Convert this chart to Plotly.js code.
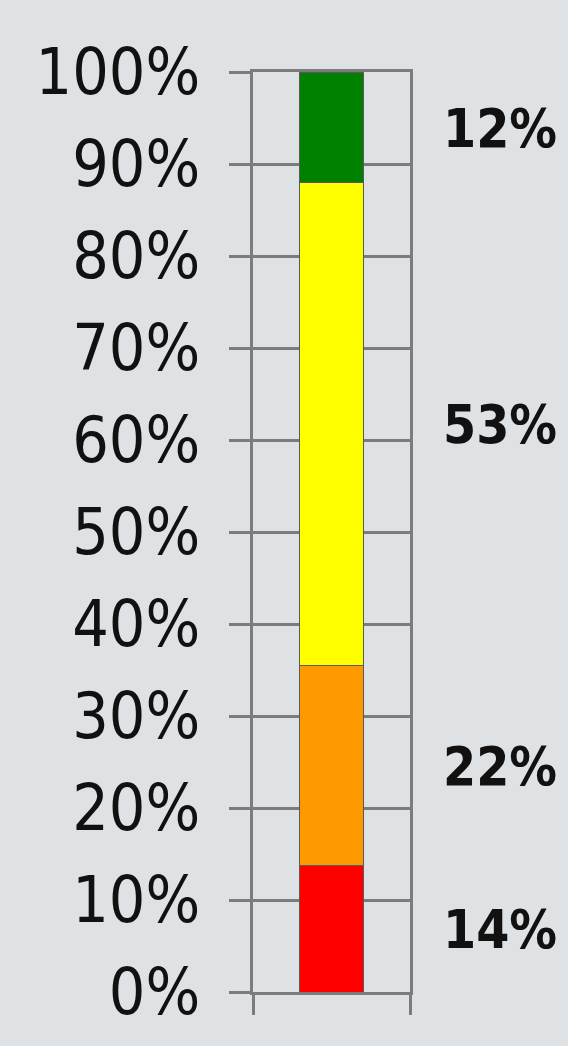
<!DOCTYPE html>
<html>
<head>
<meta charset="utf-8">
<script src="https://cdn.plot.ly/plotly-3.0.1.min.js"></script>
<style>html,body{margin:0;padding:0;background:#dfe2e4;}#chart{width:568px;height:1046px;}</style>
</head>
<body>
<div id="chart"></div>
<script>
// Data (bar segment sizes, in percent) and their printed labels
var categories = ["Total"];
var segmentNames = ["Red", "Orange", "Yellow", "Green"];
var segmentValues = [13.8, 21.7, 52.5, 12.0];
var segmentLabels = ["14%", "22%", "53%", "12%"];
var segmentColors = ["#ff0000", "#ff9900", "#ffff00", "#008000"];
var yTickVals = [0, 10, 20, 30, 40, 50, 60, 70, 80, 90, 100];
var yTickText = ["0%", "10%", "20%", "30%", "40%", "50%", "60%", "70%", "80%", "90%", "100%"];

var traces = [];
var annotations = [];
var base = 0;
for (var i = 0; i < segmentValues.length; i++) {
  traces.push({
    type: "bar",
    name: segmentNames[i],
    x: [0],
    y: [segmentValues[i]],
    width: 0.41,
    marker: {color: segmentColors[i], line: {color: "#5a5a5a", width: 1}},
    hoverinfo: "skip"
  });
  annotations.push({
    xref: "paper", yref: "y",
    x: 1.2, xanchor: "left",
    y: base + segmentValues[i] / 2, yanchor: "middle",
    yshift: -1,
    text: segmentLabels[i],
    showarrow: false,
    font: {family: "DejaVu Sans Condensed, DejaVu Sans, sans-serif", size: 53, color: "#111", weight: "bold"}
  });
  base += segmentValues[i];
}

var gridColor = "#7c7c7c";
var layout = {
  width: 568, height: 1046,
  barmode: "stack",
  showlegend: false,
  paper_bgcolor: "#dfe2e4",
  plot_bgcolor: "#dfe2e4",
  margin: {l: 253, r: 158, t: 72, b: 54, pad: 0},
  xaxis: {
    range: [-0.5, 0.5],
    tickvals: [-0.5, 0.5],
    showticklabels: false,
    ticks: "outside", ticklen: 20, tickwidth: 3, tickcolor: gridColor,
    showgrid: false, zeroline: false,
    showline: true, linecolor: gridColor, linewidth: 3, mirror: true,
    fixedrange: true
  },
  yaxis: {
    range: [0, 100],
    tickvals: yTickVals, ticktext: yTickText,
    ticks: "outside", ticklen: 21, tickwidth: 3, tickcolor: gridColor,
    ticklabelstandoff: 16,
    showgrid: true, gridcolor: gridColor, gridwidth: 3,
    zeroline: false,
    showline: true, linecolor: gridColor, linewidth: 3, mirror: true,
    tickfont: {family: "DejaVu Sans Condensed, DejaVu Sans, sans-serif", size: 64, color: "#111"},
    fixedrange: true
  },
  annotations: annotations
};

Plotly.newPlot("chart", traces, layout, {displayModeBar: false, staticPlot: true});
</script>
</body>
</html>
